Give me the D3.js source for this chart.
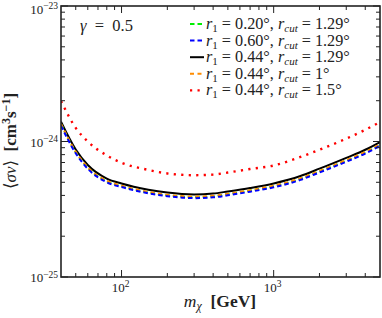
<!DOCTYPE html>
<html><head><meta charset="utf-8">
<script src="https://cdn.jsdelivr.net/npm/d3@7"></script>
<style>
html,body{margin:0;padding:0;background:#fff;}
svg{display:block;}
text{font-family:"Liberation Serif","DejaVu Serif",serif;fill:#222;}
</style></head><body>
<svg id="chart" width="382" height="318"></svg>
<script>
// ---------- data ----------
const masses = [40, 50, 60, 80, 100, 150, 200, 300, 400, 500, 700, 1000, 1500, 2000, 3000, 4000, 5000];
const sv_r020_rc129 = [1.34e-24, 8.34e-25, 6.41e-25, 5.09e-25, 4.68e-25, 4.21e-25, 4.01e-25, 3.89e-25, 3.94e-25, 4.09e-25, 4.34e-25, 4.68e-25, 5.31e-25, 6.02e-25, 7.23e-25, 8.30e-25, 9.46e-25];
const sv_r060_rc129 = [1.31e-24, 8.18e-25, 6.29e-25, 5.00e-25, 4.61e-25, 4.15e-25, 3.95e-25, 3.82e-25, 3.87e-25, 4.01e-25, 4.26e-25, 4.59e-25, 5.21e-25, 5.91e-25, 7.09e-25, 8.15e-25, 9.29e-25];
const sv_r044_rc129 = [1.40e-24, 8.73e-25, 6.71e-25, 5.33e-25, 4.90e-25, 4.41e-25, 4.20e-25, 4.07e-25, 4.13e-25, 4.28e-25, 4.54e-25, 4.90e-25, 5.56e-25, 6.30e-25, 7.57e-25, 8.69e-25, 9.91e-25];
const sv_r044_rc1   = [1.35e-24, 8.40e-25, 6.45e-25, 5.13e-25, 4.72e-25, 4.25e-25, 4.04e-25, 3.92e-25, 3.97e-25, 4.12e-25, 4.37e-25, 4.72e-25, 5.35e-25, 6.07e-25, 7.29e-25, 8.37e-25, 9.55e-25];
const sv_r044_rc15  = [1.99e-24, 1.26e-24, 1.00e-24, 7.89e-25, 6.97e-25, 6.17e-25, 5.81e-25, 5.64e-25, 5.70e-25, 5.90e-25, 6.27e-25, 6.65e-25, 7.69e-25, 8.69e-25, 1.05e-24, 1.22e-24, 1.39e-24];
const seriesLabels = [
  {r1: "0.20°", rc: "1.29°"},
  {r1: "0.60°", rc: "1.29°"},
  {r1: "0.44°", rc: "1.29°"},
  {r1: "0.44°", rc: "1°"},
  {r1: "0.44°", rc: "1.5°"}
];
const xMajorTicks = [100, 1000];
const xTickExps = ["2", "3"];
const yMajorTicks = [1e-23, 1e-24, 1e-25];
const yTickExps = ["−23", "−24", "−25"];
const xDomain = [40, 5000];
const yDomain = [1e-25, 1e-23];
const gammaLabel = "0.5";

// ---------- styles ----------
const styles = [
  {color: "#00ee00", dash: "4.5,3", w: 2},
  {color: "#0000ff", dash: "4.5,3", w: 2},
  {color: "#000000", dash: null, w: 2},
  {color: "#ff8c00", dash: "4,3.5", w: 2},
  {color: "#ff0000", dash: "2.2,5.3", w: 2.4}
];
const seriesData = [sv_r020_rc129, sv_r060_rc129, sv_r044_rc129, sv_r044_rc1, sv_r044_rc15];

const svg = d3.select("#chart");
const L = 61, T = 6, R = 380, B = 277;
const x = d3.scaleLog().domain(xDomain).range([L, R]);
const y = d3.scaleLog().domain(yDomain).range([B, T]);

svg.append("clipPath").attr("id","clip").append("rect")
  .attr("x", L).attr("y", T).attr("width", R-L).attr("height", B-T);
const line = d3.line().x((d,i)=>x(masses[i])).y(d=>y(d)).curve(d3.curveMonotoneX);
const drawOrder = [4, 2, 0, 3, 1];
drawOrder.forEach(k => {
  svg.append("path").attr("clip-path","url(#clip)")
    .attr("d", line(seriesData[k]))
    .attr("fill","none").attr("stroke", styles[k].color)
    .attr("stroke-width", styles[k].w)
    .attr("stroke-dasharray", styles[k].dash);
});

// ticks
const tickG = svg.append("g").attr("stroke","#222").attr("stroke-width",1);
const xMinor = [];
for (let dec = 10; dec <= 1000; dec *= 10) for (let m = 1; m <= 9; m++) { const v = m*dec; if (v > xDomain[0] && v < xDomain[1] && !xMajorTicks.includes(v)) xMinor.push(v); }
const yMinor = [];
for (let dec = 1e-25; dec < 1e-23; dec *= 10) for (let m = 2; m <= 9; m++) yMinor.push(m*dec);
function vt(xp, len){ tickG.append("line").attr("x1",xp).attr("x2",xp).attr("y1",B).attr("y2",B-len);
  tickG.append("line").attr("x1",xp).attr("x2",xp).attr("y1",T).attr("y2",T+len); }
function ht(yp, len){ tickG.append("line").attr("y1",yp).attr("y2",yp).attr("x1",L).attr("x2",L+len);
  tickG.append("line").attr("y1",yp).attr("y2",yp).attr("x1",R).attr("x2",R-len); }
xMinor.forEach(v=>vt(x(v),4));
xMajorTicks.forEach(v=>vt(x(v),7));
yMinor.forEach(v=>ht(y(v),4));
yMajorTicks.forEach(v=>ht(y(v),7));

// frame
svg.append("rect").attr("x",L).attr("y",T).attr("width",R-L).attr("height",B-T)
  .attr("fill","none").attr("stroke","#222").attr("stroke-width",1.6);

// tick labels
xMajorTicks.forEach((v,i)=>{
  const t = svg.append("text").attr("x", x(v)-1).attr("y", 292).attr("text-anchor","middle").attr("font-size",13);
  t.append("tspan").text("10");
  t.append("tspan").attr("dy",-5).attr("font-size",9.5).text(xTickExps[i]);
});
yMajorTicks.forEach((v,i)=>{
  const t = svg.append("text").attr("x", 58).attr("y", Math.max(y(v)+5, 13.5)).attr("text-anchor","end").attr("font-size",13);
  t.append("tspan").text("10");
  t.append("tspan").attr("dy",-4.5).attr("font-size",9.5).text(yTickExps[i]);
});

// axis titles
const xt = svg.append("text").attr("x", 220).attr("y", 307).attr("text-anchor","middle").attr("font-size",17.5);
xt.append("tspan").attr("font-style","italic").text("m");
xt.append("tspan").attr("font-style","italic").attr("font-size",12).attr("dy",3).text("χ");
xt.append("tspan").attr("dy",-3).attr("font-weight","bold").text("\u2002[GeV]");

const yt = svg.append("text").attr("transform","translate(16,141) rotate(-90)").attr("text-anchor","middle").attr("font-size",17);
yt.append("tspan").text("⟨");
yt.append("tspan").attr("font-style","italic").text("σv");
yt.append("tspan").text("⟩\u2002");
yt.append("tspan").attr("font-weight","bold").text("[cm");
yt.append("tspan").attr("font-weight","bold").attr("font-size",12).attr("dy",-6).text("3");
yt.append("tspan").attr("font-weight","bold").attr("dy",6).text("s");
yt.append("tspan").attr("font-weight","bold").attr("font-size",12).attr("dy",-6).text("−1");
yt.append("tspan").attr("font-weight","bold").attr("dy",6).text("]");

// gamma label
const gt = svg.append("text").attr("x",80).attr("y",31).attr("font-size",16.5);
gt.append("tspan").attr("font-style","italic").text("γ");
gt.append("tspan").text("\u2002=\u2002" + gammaLabel);

// legend
const legY0 = 24, legDy = 16.6;
seriesLabels.forEach((s,i)=>{
  const cy = legY0 + i*legDy;
  svg.append("line").attr("x1",190).attr("x2",204).attr("y1",cy).attr("y2",cy)
    .attr("stroke",styles[i].color).attr("stroke-width",styles[i].w)
    .attr("stroke-dasharray", styles[i].dash);
  const t = svg.append("text").attr("x",206).attr("y",cy+5).attr("font-size",16.2);
  t.append("tspan").attr("font-style","italic").text("r");
  t.append("tspan").attr("font-size",11).attr("dy",3).text("1");
  t.append("tspan").attr("dy",-3).text(" = " + s.r1 + ", ");
  t.append("tspan").attr("font-style","italic").text("r");
  t.append("tspan").attr("font-style","italic").attr("font-size",11).attr("dy",3).text("cut");
  t.append("tspan").attr("dy",-3).text(" = " + s.rc);
});
</script>
</body></html>
